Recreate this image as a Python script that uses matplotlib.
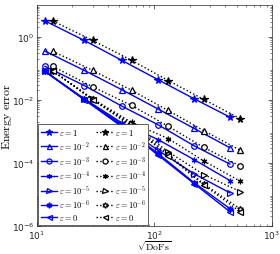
import numpy as np
import matplotlib.pyplot as plt

plt.rcParams['mathtext.fontset'] = 'cm'

# sqrt(DoFs) for the two methods (blue solid / black dotted)
x_blue = [11.7, 25.3, 52.7, 107, 218, 439]
x_black = [13.6, 29.8, 64, 131, 263, 537]

eps_labels = [r'$\varepsilon = 1$', r'$\varepsilon = 10^{-2}$', r'$\varepsilon = 10^{-3}$',
              r'$\varepsilon = 10^{-4}$', r'$\varepsilon = 10^{-5}$', r'$\varepsilon = 10^{-6}$',
              r'$\varepsilon = 0$']

# log10 of energy error
log_blue = [
    [0.50, -0.12, -0.75, -1.36, -1.97, -2.55],
    [-0.46, -1.07, -1.68, -2.29, -2.91, -3.52],
    [-0.94, -1.55, -2.20, -2.79, -3.46, -4.04],
    [-1.10, -1.97, -2.73, -3.26, -3.90, -4.56],
    [-1.10, -1.98, -2.78, -3.60, -4.35, -4.95],
    [-1.10, -1.99, -2.82, -3.70, -4.63, -5.45],
    [-1.10, -2.00, -2.85, -3.75, -4.66, -5.55],
]
log_black = [
    [0.50, -0.12, -0.75, -1.39, -1.99, -2.60],
    [-0.46, -1.07, -1.70, -2.34, -2.98, -3.60],
    [-0.94, -1.59, -2.18, -2.84, -3.51, -4.10],
    [-1.08, -1.97, -2.72, -3.23, -3.94, -4.58],
    [-1.08, -1.98, -2.77, -3.65, -4.37, -4.91],
    [-1.08, -1.99, -2.82, -3.72, -4.67, -5.46],
    [-1.08, -2.00, -2.84, -3.78, -4.70, -5.55],
]

markers = ['*', '^', 'o', (6, 2, 0), '>', (6, 1, 0), '<']
msizes = [5.5, 4, 4, 4, 4, 4.5, 4]
filled = [True, False, False, True, False, True, False]

fig = plt.figure(figsize=(2.8, 2.55), dpi=100)
ax = fig.add_axes([0.132, 0.110, 0.839, 0.866])

handles_blue, handles_black = [], []
for i in range(7):
    fc = 'blue' if filled[i] else 'none'
    h, = ax.plot(x_blue, 10 ** np.array(log_blue[i]), '-', color='blue', lw=1.0,
                 marker=markers[i], ms=msizes[i], mfc=fc, mec='blue', mew=0.9)
    handles_blue.append(h)
    fc = 'black' if filled[i] else 'white'
    if i == 5:
        fc = 'white'
    h, = ax.plot(x_black, 10 ** np.array(log_black[i]), ':', color='black', lw=1.0,
                 marker=markers[i], ms=msizes[i], mfc=fc, mec='black', mew=0.9)
    handles_black.append(h)

ax.set_xscale('log')
ax.set_yscale('log')
ax.set_xlim(10, 1000)
ax.set_ylim(1e-6, 10)
ax.set_xticks([10, 100, 1000])
ax.set_yticks([1e-6, 1e-4, 1e-2, 1])
ax.tick_params(which='both', direction='in', top=True, right=True, labelsize=6.5,
               colors='0.15')
ax.tick_params(axis='x', pad=2)
ax.tick_params(axis='y', pad=2)
ax.tick_params(which='major', length=3, width=0.5)
ax.tick_params(which='minor', length=1.5, width=0.4)
for s in ax.spines.values():
    s.set_color('0.15')
    s.set_linewidth(0.5)

ax.set_xlabel(r'$\sqrt{\mathrm{DoFs}}$', fontsize=7, labelpad=-1.8)
ax.set_ylabel(r'$\mathrm{Energy\ error}$', fontsize=8.5, labelpad=-1.5)

ax.legend(handles_blue + handles_black, eps_labels + eps_labels, ncol=2,
          loc='lower left', fontsize=6, handlelength=2.0, handletextpad=0.2,
          columnspacing=0.7, labelspacing=0.22, borderpad=0.3,
          borderaxespad=0.15, fancybox=False, framealpha=1, edgecolor='0.15',
          markerscale=0.9)
ax.get_legend().get_frame().set_linewidth(0.5)

fig.savefig('out.png', dpi=100)
